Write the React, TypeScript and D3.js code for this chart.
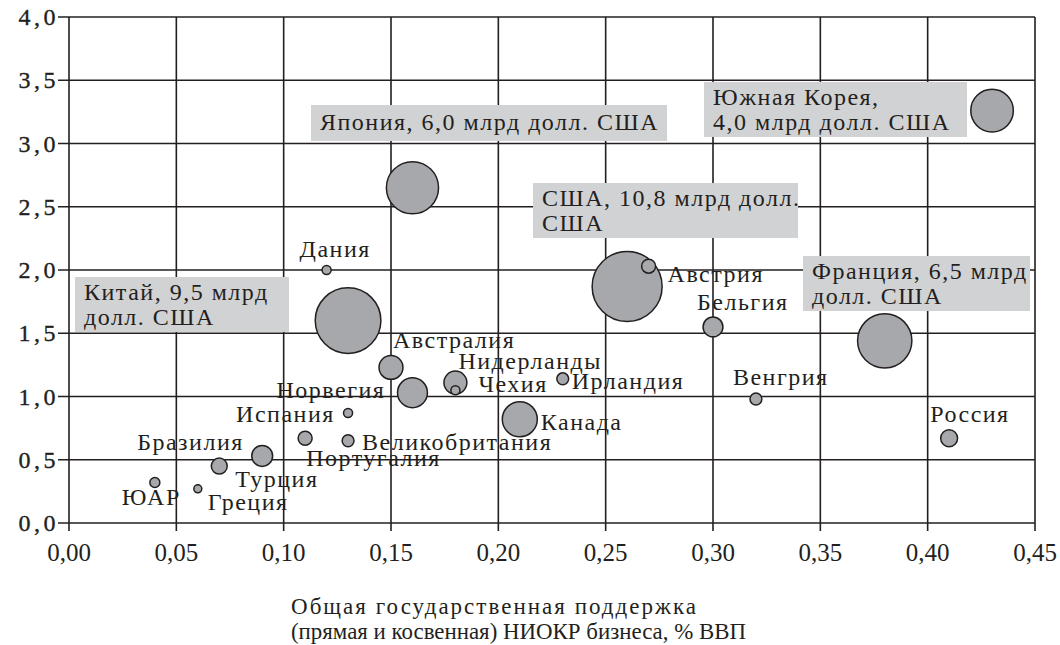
import React from "react";
import * as d3 from "d3";

// ---- data ----
const countries = ["Южная Корея","Япония","США","Франция","Китай","Дания","Австрия","Бельгия","Австралия","Норвегия","Нидерланды","Чехия","Ирландия","Канада","Венгрия","Россия","Испания","Португалия","Великобритания","Бразилия","Турция","ЮАР","Греция"];
const supportPctGDP = [0.43,0.16,0.26,0.38,0.13,0.12,0.27,0.30,0.15,0.16,0.18,0.18,0.23,0.21,0.32,0.41,0.13,0.11,0.13,0.09,0.07,0.04,0.06];
const yValues = [3.26,2.65,1.87,1.44,1.60,2.00,2.03,1.55,1.23,1.03,1.11,1.05,1.14,0.82,0.98,0.67,0.87,0.67,0.65,0.53,0.45,0.32,0.27];
const bnUSD = [4.0,6.0,10.8,6.5,9.5,0.18,0.43,0.87,1.26,1.97,1.16,0.18,0.31,2.7,0.31,0.63,0.18,0.43,0.31,0.96,0.56,0.22,0.14];
const xTicks = [0,0.05,0.1,0.15,0.2,0.25,0.3,0.35,0.4,0.45];
const yTicks = [0,0.5,1,1.5,2,2.5,3,3.5,4];
const boxLabels = [
  ["Южная Корея,", "4,0 млрд долл. США"],
  ["Япония, 6,0 млрд долл. США"],
  ["США, 10,8 млрд долл.", "США"],
  ["Франция, 6,5 млрд", "долл. США"],
  ["Китай, 9,5 млрд", "долл. США"],
];
const axisTitle = ["Общая государственная поддержка", "(прямая и косвенная) НИОКР бизнеса, % ВВП"];

// ---- layout (label left / baseline offsets relative to bubble centre, px) ----
const labelOffsets: Record<string, [number, number]> = {
  "Дания": [-27, -13],
  "Австрия": [19, 16],
  "Бельгия": [-16, -17],
  "Австралия": [2, -19],
  "Норвегия": [-136, 5],
  "Нидерланды": [3, -14],
  "Чехия": [23, 2],
  "Ирландия": [9, 10],
  "Канада": [21, 11],
  "Венгрия": [-23, -14],
  "Россия": [-19, -16],
  "Испания": [-112, 9],
  "Португалия": [1, 28],
  "Великобритания": [14, 9],
  "Бразилия": [-125, -6],
  "Турция": [16, 21],
  "ЮАР": [-33, 22],
  "Греция": [10, 21],
};
// boxes: [x, y, w, h] in px
const boxLayout: [number, number, number, number][] = [
  [704, 82, 263, 55],
  [311, 105, 356, 36],
  [533, 183, 265, 55],
  [803, 256, 227, 55],
  [75, 277, 214, 55],
];
const titleWidths = [405, 455];
const titleAdjust = ["spacing", "spacingAndGlyphs"];

const W = 1060, H = 645;
const L = 69, R = 1035, T = 17, B = 523;
const ink = "#231f20";
const FONT = "'Liberation Serif', 'Times New Roman', serif";

export default function App() {
  const x = d3.scaleLinear().domain([0, 0.45]).range([L, R]);
  const y = d3.scaleLinear().domain([0, 4]).range([B, T]);
  const r = d3.scaleSqrt().domain([0, 10.8]).range([0, 35]);
  const fmtX = (v: number) => d3.format(".2f")(v).replace(".", ",");
  const fmtY = (v: number) => d3.format(".1f")(v).replace(".", ",");

  const pts = countries.map((c, i) => ({ c, x: supportPctGDP[i], y: yValues[i], s: bnUSD[i] }));
  const order = [...pts].sort((a, b) => b.s - a.s);
  const LS = 1.5;

  return (
    <svg width={W} height={H} style={{ position: "absolute", left: 0, top: 0, background: "#fff" }} fontFamily={FONT}>
      {/* grid */}
      {xTicks.map((t) => (
        <line key={"gx" + t} x1={x(t)} x2={x(t)} y1={T} y2={B + 8} stroke={ink} strokeWidth={1.6} />
      ))}
      {yTicks.map((t) => (
        <line key={"gy" + t} x1={L - 11} x2={R} y1={y(t)} y2={y(t)} stroke={ink} strokeWidth={1.6} />
      ))}
      {/* axis tick labels */}
      {yTicks.map((t) => (
        <text key={"ty" + t} x={59} y={y(t) + 8} textAnchor="end" fontSize={24} fill={ink} stroke={ink} strokeWidth={0.35} letterSpacing={3.5}>
          {fmtY(t)}
        </text>
      ))}
      {xTicks.map((t) => (
        <text key={"tx" + t} x={x(t)} y={561} textAnchor="middle" fontSize={25} fill={ink}>
          {fmtX(t)}
        </text>
      ))}
      {/* axis title */}
      {axisTitle.map((s, i) => (
        <text key={"at" + i} x={291} y={614 + i * 25} fontSize={23} textLength={titleWidths[i]} lengthAdjust={titleAdjust[i]} fill={ink}>
          {s}
        </text>
      ))}
      {/* label boxes */}
      {boxLayout.map(([bx, by, bw, bh], i) => (
        <g key={"box" + i}>
          <rect x={bx} y={by} width={bw} height={bh} fill="#d1d2d4" />
          {boxLabels[i].map((s, j) => (
            <text key={j} x={bx + 9} y={by + (boxLabels[i].length === 1 ? 25 : 23) + j * 25} fontSize={24} letterSpacing={LS} fill={ink}>
              {s}
            </text>
          ))}
        </g>
      ))}
      {/* bubbles */}
      {order.map((p) => (
        <circle key={p.c} cx={x(p.x)} cy={y(p.y)} r={r(p.s)} fill="#a7a8ab" stroke={ink} strokeWidth={1.5} />
      ))}
      {/* small labels */}
      {pts.map((p) => {
        const off = labelOffsets[p.c];
        if (!off) return null;
        return (
          <text key={"l" + p.c} x={x(p.x) + off[0]} y={y(p.y) + off[1]} fontSize={24} letterSpacing={LS} fill={ink}>
            {p.c}
          </text>
        );
      })}
    </svg>
  );
}
